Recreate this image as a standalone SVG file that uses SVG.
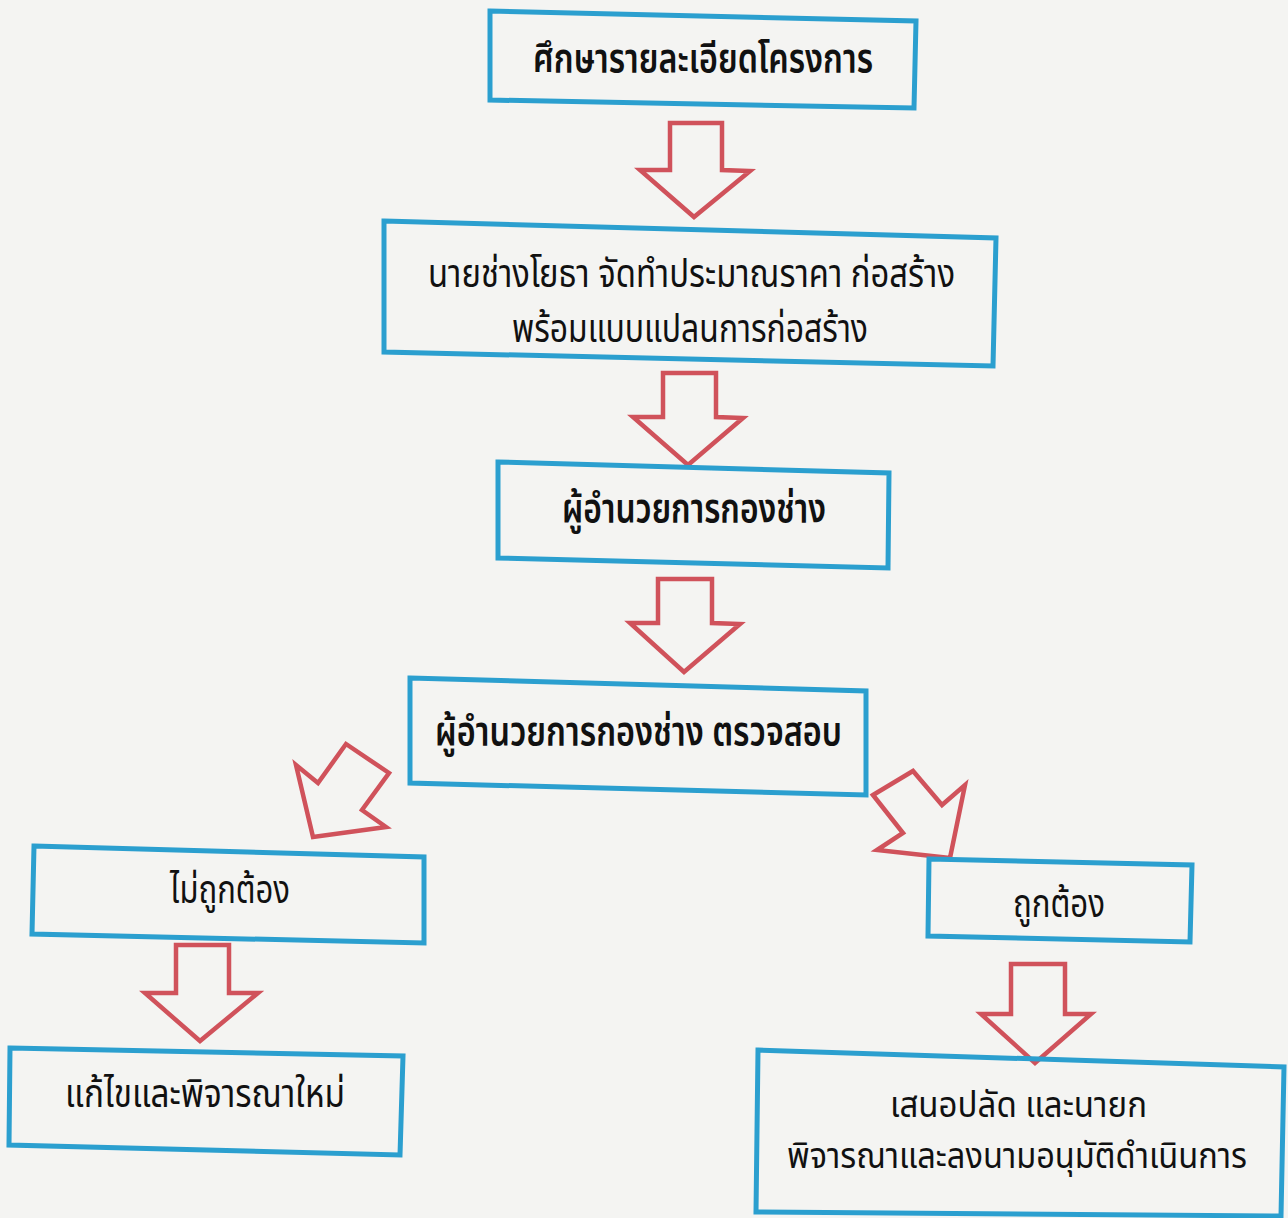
<svg xmlns="http://www.w3.org/2000/svg" width="1288" height="1218" viewBox="0 0 1288 1218">
<style>
.box{fill:none;stroke:#2b9fcf;stroke-width:5;stroke-linejoin:miter}
.arr{fill:none;stroke:#d0525b;stroke-width:4.5;stroke-linejoin:miter}
.t{font-family:"Noto Sans Thai","Noto Sans Thai UI","Noto Sans","DejaVu Sans",sans-serif;font-size:39px;fill:#111}
.b{font-weight:600;font-size:41px}
.s{font-size:36px}
</style>
<rect x="0" y="0" width="1288" height="1218" fill="#f4f4f2"/>
<g id="connectors">
<polygon class="arr" points="670,123 722,123 722,170 750,171 694,217 640,170 670,170"/>
<polygon class="arr" points="663,373 716,373 716,417 743,418 688,465 633,417 663,417"/>
<polygon class="arr" points="658,579 712,579 712,623 740,624 684,672 630,623 658,623"/>
<polygon class="arr" points="313,837 296,765 318,783 346,744 389,773 362,810 386,827"/>
<polygon class="arr" points="873,795 913,771 942,805 965,785 950,858 877,850 903,833"/>
<polygon class="arr" points="176,945 229,945 229,993 258,993 200,1041 145,993 176,993"/>
<polygon class="arr" points="1011,964 1065,964 1065,1014 1091,1014 1035,1063 981,1014 1011,1014"/>
</g>
<g id="n1">
<polygon class="box" points="490,11 916,21 914,108 490,100"/>
<text class="t b" x="533" y="73" textLength="340" lengthAdjust="spacingAndGlyphs">ศึกษารายละเอียดโครงการ</text>
</g>
<g id="n2">
<polygon class="box" points="384,221 996,238 993,366 384,352"/>
<text class="t" x="428" y="287" textLength="527" lengthAdjust="spacingAndGlyphs">นายช่างโยธา จัดทำประมาณราคา ก่อสร้าง</text>
<text class="t" x="512" y="342" textLength="356" lengthAdjust="spacingAndGlyphs">พร้อมแบบแปลนการก่อสร้าง</text>
</g>
<g id="n3">
<polygon class="box" points="498,462 889,473 888,568 498,558"/>
<text class="t b" x="562" y="523" textLength="264" lengthAdjust="spacingAndGlyphs">ผู้อำนวยการกองช่าง</text>
</g>
<g id="n4">
<polygon class="box" points="410,678 866,691 866,795 410,783"/>
<text class="t b" x="435" y="746" textLength="407" lengthAdjust="spacingAndGlyphs">ผู้อำนวยการกองช่าง ตรวจสอบ</text>
</g>
<g id="n5">
<polygon class="box" points="34,846 424,857 424,943 32,934"/>
<text class="t" x="170" y="903" textLength="120" lengthAdjust="spacingAndGlyphs">ไม่ถูกต้อง</text>
</g>
<g id="n6">
<polygon class="box" points="929,859 1192,865 1190,942 928,936"/>
<text class="t" x="1013" y="917" textLength="92" lengthAdjust="spacingAndGlyphs">ถูกต้อง</text>
</g>
<g id="n7">
<polygon class="box" points="10,1048 403,1056 400,1155 9,1145"/>
<text class="t" x="65" y="1107" textLength="280" lengthAdjust="spacingAndGlyphs">แก้ไขและพิจารณาใหม่</text>
</g>
<g id="n8">
<polygon class="box" points="758,1050 1284,1067 1281,1216 756,1212"/>
<text class="t s" x="890" y="1117" textLength="257" lengthAdjust="spacingAndGlyphs">เสนอปลัด และนายก</text>
<text class="t s" x="787" y="1168" textLength="460" lengthAdjust="spacingAndGlyphs">พิจารณาและลงนามอนุมัติดำเนินการ</text>
</g>
</svg>
